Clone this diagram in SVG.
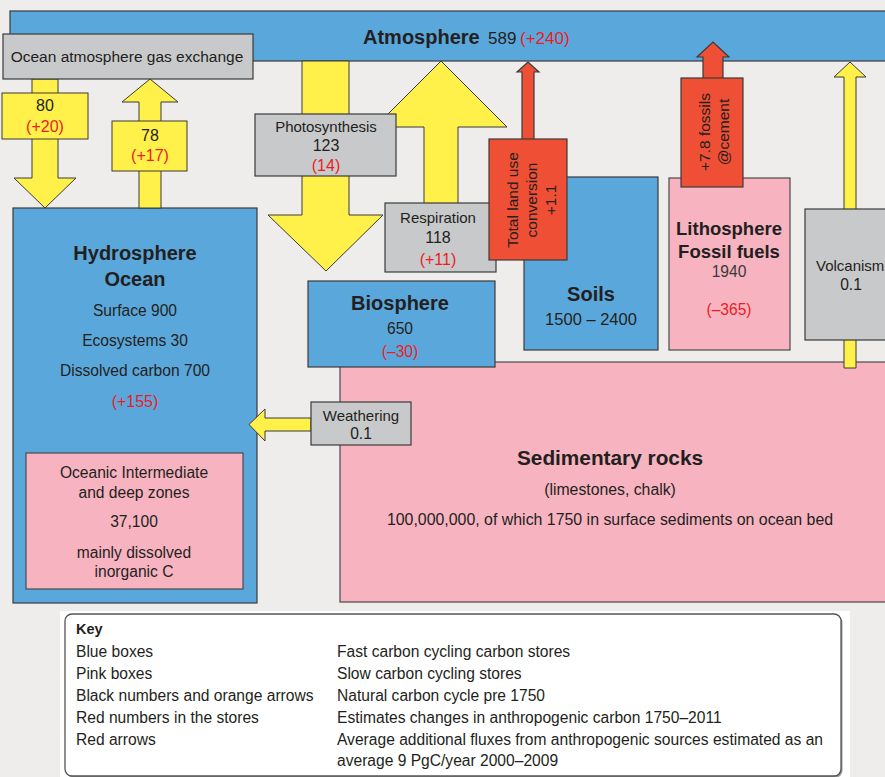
<svg xmlns="http://www.w3.org/2000/svg" width="885" height="777" viewBox="0 0 885 777">
<style>
text{font-family:"Liberation Sans",Arial,sans-serif;fill:#231f20;font-size:15.6px}
.m{text-anchor:middle}
.b{font-weight:bold}
.r{fill:#ed1c24}
.blue{fill:#5aa7db;stroke:#3b3b3b;stroke-width:1.2}
.pink{fill:#f7b3c0;stroke:#4a4a4a;stroke-width:1.2}
.gray{fill:#c8c9cb;stroke:#3b3b3b;stroke-width:1.2}
.yel{fill:#fff04a;stroke:#3b3b3b;stroke-width:1}
.red{fill:#ef4f35;stroke:#3b3b3b;stroke-width:1.2}
.key text{font-size:15.6px}
</style>
<rect width="885" height="777" fill="#eeedeb"/>

<g id="atmosphere">
<rect class="blue" x="10" y="11" width="880" height="50"/>
<text x="363" y="44" class="b" style="font-size:20px">Atmosphere</text>
<text x="488" y="44" style="font-size:17px">589</text>
<text x="520" y="44" class="r" style="font-size:17px">(+240)</text>
</g>

<g id="sedimentary">
<rect class="pink" x="340" y="362" width="550" height="240"/>
<text x="610" y="465" class="m b" style="font-size:20.8px">Sedimentary rocks</text>
<text x="610" y="495" class="m" style="font-size:15.8px">(limestones, chalk)</text>
<text x="610" y="525" class="m" style="font-size:15.9px">100,000,000, of which 1750 in surface sediments on ocean bed</text>
</g>

<g id="hydrosphere">
<rect class="blue" x="13" y="208" width="244" height="395"/>
<text x="135" y="260" class="m b" style="font-size:20px">Hydrosphere</text>
<text x="135" y="286" class="m b" style="font-size:20px">Ocean</text>
<text x="135" y="316" class="m">Surface 900</text>
<text x="135" y="346" class="m">Ecosystems 30</text>
<text x="135" y="376" class="m">Dissolved carbon 700</text>
<text x="135" y="407" class="m r" style="font-size:16px">(+155)</text>
</g>

<g id="deep-ocean">
<rect class="pink" x="26" y="453" width="217" height="136"/>
<text x="134" y="478" class="m">Oceanic Intermediate</text>
<text x="134" y="498" class="m">and deep zones</text>
<text x="134" y="527" class="m">37,100</text>
<text x="134" y="558" class="m">mainly dissolved</text>
<text x="134" y="577" class="m">inorganic C</text>
</g>

<g id="soils">
<rect class="blue" x="524" y="177" width="134" height="173"/>
<text x="591" y="301" class="m b" style="font-size:20px">Soils</text>
<text x="591" y="325" class="m" style="font-size:16.5px">1500 – 2400</text>
</g>

<g id="lithosphere">
<rect class="pink" x="669" y="178" width="121" height="172"/>
<text x="729" y="235" class="m b" style="font-size:18.5px">Lithosphere</text>
<text x="729" y="258" class="m b" style="font-size:18.5px">Fossil fuels</text>
<text x="729" y="277" class="m" style="fill:#3a3a3a">1940</text>
<text x="729" y="315" class="m r">(–365)</text>
</g>

<g id="biosphere">
<rect class="blue" x="308" y="281" width="187" height="86"/>
<text x="400" y="310" class="m b" style="font-size:20px">Biosphere</text>
<text x="400" y="334" class="m">650</text>
<text x="400" y="357" class="m r">(–30)</text>
</g>

<g id="connectors">
<polygon class="yel" points="32,79 58,79 58,178 76,178 45,208 14,178 32,178"/>
<polygon class="yel" points="139,208 139,102 122,102 150,79 178,102 161,102 161,208"/>
<polygon class="yel" points="302,61 349,61 349,215 383,215 326,271 268,215 302,215"/>
<polygon class="yel" points="424,210 424,127 375,127 441,61 507,127 458,127 458,210"/>
<polygon class="red" points="522,145 522,72 517,72 528,62 539,72 534,72 534,145"/>
<polygon class="red" points="703,85 703,57 697,57 713,42 729,57 723,57 723,85"/>
<polygon class="yel" points="844,368 844,77 834,77 850,62 866,77 856,77 856,368"/>
<polygon class="yel" points="311,418 265,418 265,409 249,424.5 265,441 265,431 311,431"/>
</g>

<g id="gas-exchange">
<rect class="gray" x="3" y="34" width="250" height="45"/>
<text x="127" y="62" class="m" style="font-size:15.5px">Ocean atmosphere gas exchange</text>
</g>

<g id="flux-80">
<rect class="yel" x="2" y="93" width="86" height="46"/>
<text x="45" y="111" class="m" style="font-size:16px">80</text>
<text x="45" y="132" class="m r" style="font-size:16px">(+20)</text>
</g>

<g id="flux-78">
<rect class="yel" x="112" y="121" width="75" height="50"/>
<text x="150" y="141" class="m" style="font-size:16px">78</text>
<text x="150" y="161" class="m r" style="font-size:16px">(+17)</text>
</g>

<g id="photosynthesis">
<rect class="gray" x="255" y="114" width="141" height="62"/>
<text x="326" y="132" class="m" style="font-size:15px">Photosynthesis</text>
<text x="326" y="151" class="m" style="font-size:16px">123</text>
<text x="326" y="171" class="m r" style="font-size:16px">(14)</text>
</g>

<g id="respiration">
<rect class="gray" x="385" y="203" width="111" height="69"/>
<text x="438" y="223" class="m" style="font-size:15px">Respiration</text>
<text x="438" y="243" class="m" style="font-size:16px">118</text>
<text x="438" y="265" class="m r" style="font-size:16px">(+11)</text>
</g>

<g id="land-use">
<rect class="red" x="489" y="139" width="78" height="121"/>
<g transform="translate(528,200) rotate(-90)">
<text x="0" y="-10" class="m" style="font-size:15.5px">Total land use</text>
<text x="0" y="9" class="m" style="font-size:15.5px">conversion</text>
<text x="0" y="28" class="m" style="font-size:15.5px">+1.1</text>
</g>
</g>

<g id="fossil-cement">
<rect class="red" x="681" y="78" width="62" height="109"/>
<g transform="translate(712,132) rotate(-90)">
<text x="0" y="-2" class="m" style="font-size:15.5px">+7.8 fossils</text>
<text x="0" y="17" class="m" style="font-size:15.5px">@cement</text>
</g>
</g>

<g id="volcanism">
<rect class="gray" x="805" y="209" width="90" height="131"/>
<text x="816" y="271" style="font-size:15px">Volcanism</text>
<text x="851" y="290" class="m">0.1</text>
</g>

<g id="weathering">
<rect class="gray" x="311" y="402" width="100" height="43"/>
<text x="361" y="421" class="m" style="font-size:15px">Weathering</text>
<text x="361" y="439" class="m">0.1</text>
</g>

<g id="key" class="key">
<rect x="60" y="611" width="790" height="170" fill="#ffffff"/>
<rect x="66.5" y="615.5" width="776" height="162" rx="7" fill="#555" opacity="0.6"/>
<rect x="65" y="614" width="776" height="162" rx="7" fill="#ffffff" stroke="#555" stroke-width="1.3"/>
<text x="76" y="634" class="b" style="font-size:14.5px">Key</text>
<text x="76" y="657">Blue boxes</text>
<text x="76" y="679">Pink boxes</text>
<text x="76" y="701">Black numbers and orange arrows</text>
<text x="76" y="723">Red numbers in the stores</text>
<text x="76" y="745">Red arrows</text>
<text x="337" y="657">Fast carbon cycling carbon stores</text>
<text x="337" y="679">Slow carbon cycling stores</text>
<text x="337" y="701">Natural carbon cycle pre 1750</text>
<text x="337" y="723">Estimates changes in anthropogenic carbon 1750–2011</text>
<text x="337" y="745">Average additional fluxes from anthropogenic sources estimated as an</text>
<text x="337" y="766">average 9 PgC/year 2000–2009</text>
</g>
</svg>
